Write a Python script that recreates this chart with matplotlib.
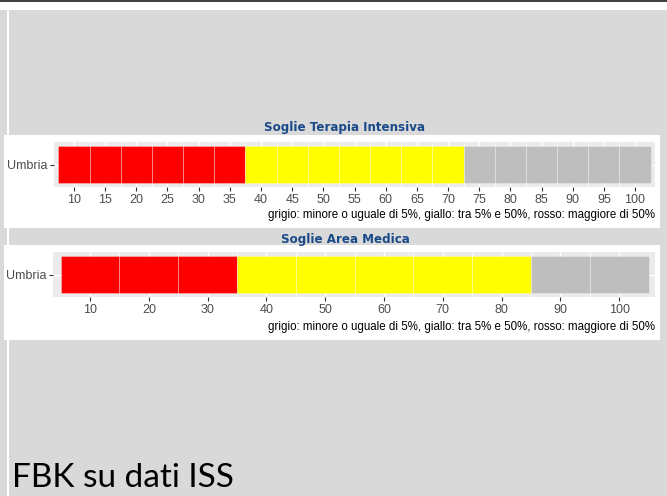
import matplotlib.pyplot as plt
from matplotlib.patches import Rectangle

W, H = 667, 496

# Terapia Intensiva thresholds (tile centres, step 5)
ti_centres = [10, 15, 20, 25, 30, 35, 40, 45, 50, 55, 60, 65, 70, 75, 80, 85, 90, 95, 100]
ti_levels = ['rosso', 'rosso', 'rosso', 'rosso', 'rosso', 'rosso',
             'giallo', 'giallo', 'giallo', 'giallo', 'giallo', 'giallo', 'giallo',
             'grigio', 'grigio', 'grigio', 'grigio', 'grigio', 'grigio']
ti_ticks = [10, 15, 20, 25, 30, 35, 40, 45, 50, 55, 60, 65, 70, 75, 80, 85, 90, 95, 100]

# Area Medica thresholds (tile centres, step 10)
am_centres = [10, 20, 30, 40, 50, 60, 70, 80, 90, 100]
am_levels = ['rosso', 'rosso', 'rosso',
             'giallo', 'giallo', 'giallo', 'giallo', 'giallo',
             'grigio', 'grigio']
am_ticks = [10, 20, 30, 40, 50, 60, 70, 80, 90, 100]

region = 'Umbria'
caption = 'grigio: minore o uguale di 5%, giallo: tra 5% e 50%, rosso: maggiore di 50%'
level_colors = {'rosso': '#ff0000', 'giallo': '#ffff00', 'grigio': '#bebebe'}


def fx(x):
    return x / W


def fy(y):
    return 1 - y / H


def box(fig, x0, y0, x1, y1, color):
    fig.patches.append(Rectangle((fx(x0), fy(y1)), fx(x1) - fx(x0), fy(y0) - fy(y1),
                                 transform=fig.transFigure, facecolor=color,
                                 edgecolor='none', zorder=-5))


def tile_plot(fig, rect_px, centres, levels, width, ticks, xlim):
    x0, y0, x1, y1 = rect_px
    ax = fig.add_axes([fx(x0), fy(y1), fx(x1) - fx(x0), fy(y0) - fy(y1)])
    ax.set_zorder(5)
    ax.set_facecolor('#ebebeb')
    for c, lv in zip(centres, levels):
        ax.bar(c, 0.9, width=width, bottom=-0.45, color=level_colors[lv],
               edgecolor=(1, 1, 1, 0.35), linewidth=0.6, zorder=3)
    ax.set_xlim(*xlim)
    ax.set_ylim(-0.55, 0.55)
    ax.set_xticks(ticks)
    ax.set_xticks([t + width / 2 for t in ticks[:-1]], minor=True)
    ax.set_yticks([0])
    ax.set_yticklabels([region])
    ax.grid(True, which='major', color='white', linewidth=1.0, zorder=1)
    ax.grid(True, which='minor', axis='x', color='white', linewidth=0.5, zorder=1)
    ax.set_axisbelow(True)
    ax.tick_params(which='minor', length=0)
    ax.tick_params(which='major', length=3, width=0.8, color='#333333',
                   labelcolor='#4d4d4d', labelsize=9, pad=2)
    for s in ax.spines.values():
        s.set_visible(False)
    return ax


plt.rcParams['font.family'] = ['Liberation Sans', 'DejaVu Sans']
fig = plt.figure(figsize=(W / 100, H / 100), dpi=100)
fig.patch.set_facecolor('#d9d9d9')

# slide frame
box(fig, 0, 0, W, 10, 'white')
box(fig, 0, 0, W, 2, '#404040')
box(fig, 7, 10, 9, H, 'white')

# white chart panels
box(fig, 4, 135, 660, 228, 'white')
box(fig, 4, 245, 660, 340, 'white')

title_kw = dict(ha='center', va='center', fontsize=8.6, fontweight='bold',
                color='#1a4a88', family='DejaVu Sans')
fig.text(fx(345), fy(128), 'Soglie Terapia Intensiva', **title_kw)
fig.text(fx(345), fy(239), 'Soglie Area Medica', **title_kw)

tile_plot(fig, (54, 142, 655, 187), ti_centres, ti_levels, 5, ti_ticks, (6.8, 103.2))
tile_plot(fig, (53, 252, 655, 297), am_centres, am_levels, 10, am_ticks, (3.7, 106.1))

cap_kw = dict(ha='right', va='center', fontsize=8.3, color='black')
fig.text(fx(655), fy(215), caption, **cap_kw)
fig.text(fx(655), fy(327), caption, **cap_kw)

fig.text(fx(12), fy(478), 'FBK su dati ISS', fontsize=24, family='Lato',
         ha='left', va='center', color='black')

fig.savefig('out.png', dpi=100, facecolor=fig.get_facecolor())
